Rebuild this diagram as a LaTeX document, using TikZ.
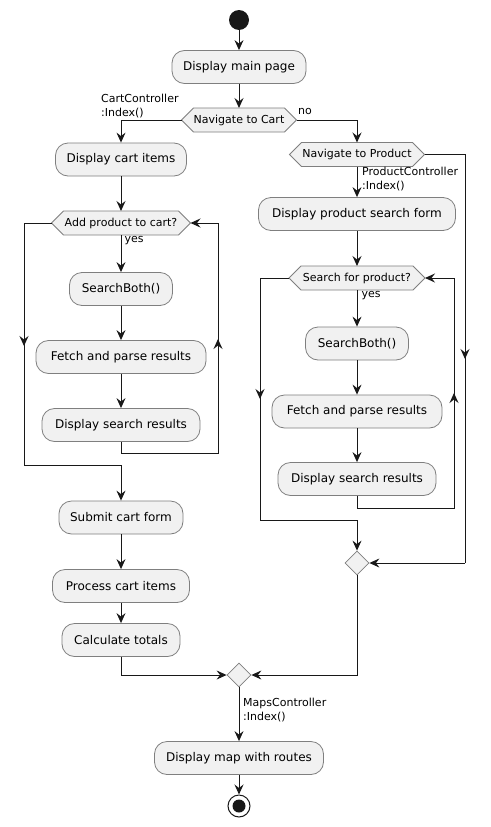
\documentclass[tikz,border=0pt]{standalone}
\usepackage{fontspec}
\setmainfont{DejaVu Sans}
\usetikzlibrary{arrows.meta,shapes.geometric,backgrounds}
\definecolor{boxfill}{HTML}{F1F1F1}
\definecolor{boxline}{HTML}{7F7F7F}
\definecolor{ink}{HTML}{181818}
\tikzset{
  act/.style={draw=boxline,fill=boxfill,rounded corners=12.5pt,line width=0.8pt,
    font=\fontsize{12}{14}\selectfont,text=black,inner sep=0pt,minimum height=33pt},
  dectext/.style={font=\fontsize{11}{13}\selectfont,text=black,inner sep=0pt},
  decshape/.style={draw=boxline,fill=boxfill,line width=0.8pt},
  merge/.style={draw=boxline,fill=boxfill,line width=0.8pt,shape=diamond,
    minimum width=24pt,minimum height=24pt,inner sep=0pt},
  lbl/.style={font=\fontsize{11}{13.5}\selectfont,text=black,inner sep=0pt,align=left},
  flow/.style={draw=ink,line width=1pt,-{Stealth[length=10pt,width=9pt,inset=3.5pt]}},
  line/.style={draw=ink,line width=1pt},
  midarr/.style={draw=ink,line width=1pt,-{Stealth[length=10pt,width=9pt,inset=3.5pt]}},
}
\newcommand\hexa[5]{%
  \filldraw[decshape] ({#2-#4},#3) -- ({#2-#4+12},{#3-12}) -- ({#2+#4-12},{#3-12})
    -- ({#2+#4},#3) -- ({#2+#4-12},{#3+12}) -- ({#2-#4+12},{#3+12}) -- cycle;
  \node[dectext] (#1) at (#2,#3) {#5};
  \coordinate (#1-w) at ({#2-#4},#3);
  \coordinate (#1-e) at ({#2+#4},#3);
  \coordinate (#1-n) at (#2,{#3-12});
  \coordinate (#1-s) at (#2,{#3+12});}
\begin{document}
\begin{tikzpicture}[x=1pt,y=-1pt]
\useasboundingbox[fill=white] (0,0) rectangle (490,827);
% start
\fill[ink] (239,20) circle (10);
\coordinate (start) at (239,30);
\node[act,minimum width=134pt] (main) at (239,67) {Display main page};
\hexa{cartD}{239}{120}{57.5}{Navigate to Cart}
\node[act,minimum width=131pt] (cart) at (121,159.5) {Display cart items};
\hexa{prodD}{357}{154.5}{67.5}{Navigate to Product}
\node[act,minimum width=197pt] (form) at (357,214) {Display product search form};
\hexa{addD}{121}{223}{69.5}{Add product to cart?}
\node[act,minimum width=103pt] (sb1) at (121,289) {SearchBoth()};
\node[act,minimum width=170pt] (fetch1) at (121,357) {Fetch and parse results};
\node[act,minimum width=158pt] (disp1) at (121,425) {Display search results};
\node[act,minimum width=124pt] (submit) at (121,517.5) {Submit cart form};
\node[act,minimum width=137pt] (process) at (121,586) {Process cart items};
\node[act,minimum width=118pt] (calc) at (121,640) {Calculate totals};
\hexa{searchD}{357}{278}{68}{Search for product?}
\node[act,minimum width=103pt] (sb2) at (357,343.5) {SearchBoth()};
\node[act,minimum width=170pt] (fetch2) at (357,411.5) {Fetch and parse results};
\node[act,minimum width=158pt] (disp2) at (357,479) {Display search results};
\node[merge] (m1) at (357,563) {};
\node[merge] (m2) at (239,675) {};
\node[act,minimum width=169pt] (map) at (239,758) {Display map with routes};
\node[draw=ink,line width=1pt,circle,minimum size=22pt,inner sep=0pt] (end) at (239,806) {};
\fill[ink] (end.center) circle (6.5);

% helper coordinates
\coordinate (l1) at (24,223);
\coordinate (l2) at (24,465);
\coordinate (l3) at (121,465);
\coordinate (r1) at (218,453);
\coordinate (r2) at (218,223);
\coordinate (s1) at (260,278);
\coordinate (s2) at (260,520);
\coordinate (s3) at (357,520);
\coordinate (t1) at (454,508);
\coordinate (t2) at (454,278);
\coordinate (o1) at (465,154.5);
\coordinate (o2) at (465,563);

% connectors
\draw[flow] (start) -- (main);
\draw[flow] (main) -- (cartD-n);
\draw[flow] (cartD-w) -| (cart);
\node[lbl,anchor=north west] (lcart) at (101,94) {CartController\\:Index()};
\draw[flow] (cartD-e) -| (prodD-n);
\node[lbl,anchor=north west] (lno) at (298,108) {no};
\draw[flow] (cart) -- (addD-n);
\draw[flow] (addD-s) -- (sb1);
\node[lbl,anchor=north west] (lyes1) at (124.5,236) {yes};
\draw[flow] (sb1) -- (fetch1);
\draw[flow] (fetch1) -- (disp1);
\draw[line] (disp1.south) |- (r1) -- (r2);
\draw[flow] (r2) -- (addD-e);
\draw[midarr] (218,360) -- (218,339);
\draw[line] (addD-w) -- (l1) -- (l2) -- (l3);
\draw[midarr] (24,325) -- (24,346);
\draw[flow] (l3) -- (submit);
\draw[flow] (submit) -- (process);
\draw[flow] (process) -- (calc);
\draw[flow] (calc.south) |- (m2.west);

\draw[flow] (prodD-s) -- (form);
\node[lbl,anchor=north west] (lprod) at (362,167) {ProductController\\:Index()};
\draw[flow] (form) -- (searchD-n);
\draw[flow] (searchD-s) -- (sb2);
\node[lbl,anchor=north west] (lyes2) at (361.5,291) {yes};
\draw[flow] (sb2) -- (fetch2);
\draw[flow] (fetch2) -- (disp2);
\draw[line] (disp2.south) |- (t1) -- (t2);
\draw[flow] (t2) -- (searchD-e);
\draw[midarr] (454,415) -- (454,393);
\draw[line] (searchD-w) -- (s1) -- (s2) -- (s3);
\draw[midarr] (260,378) -- (260,399);
\draw[flow] (s3) -- (m1);
\draw[line] (prodD-e) -- (o1) -- (o2);
\draw[midarr] (465,340) -- (465,359);
\draw[flow] (o2) -- (m1.east);
\draw[flow] (m1.south) |- (m2.east);
\draw[flow] (m2.south) -- (map);
\node[lbl,anchor=north west] (lmaps) at (243,698) {MapsController\\:Index()};
\draw[flow] (map) -- (end);
\end{tikzpicture}
\end{document}
